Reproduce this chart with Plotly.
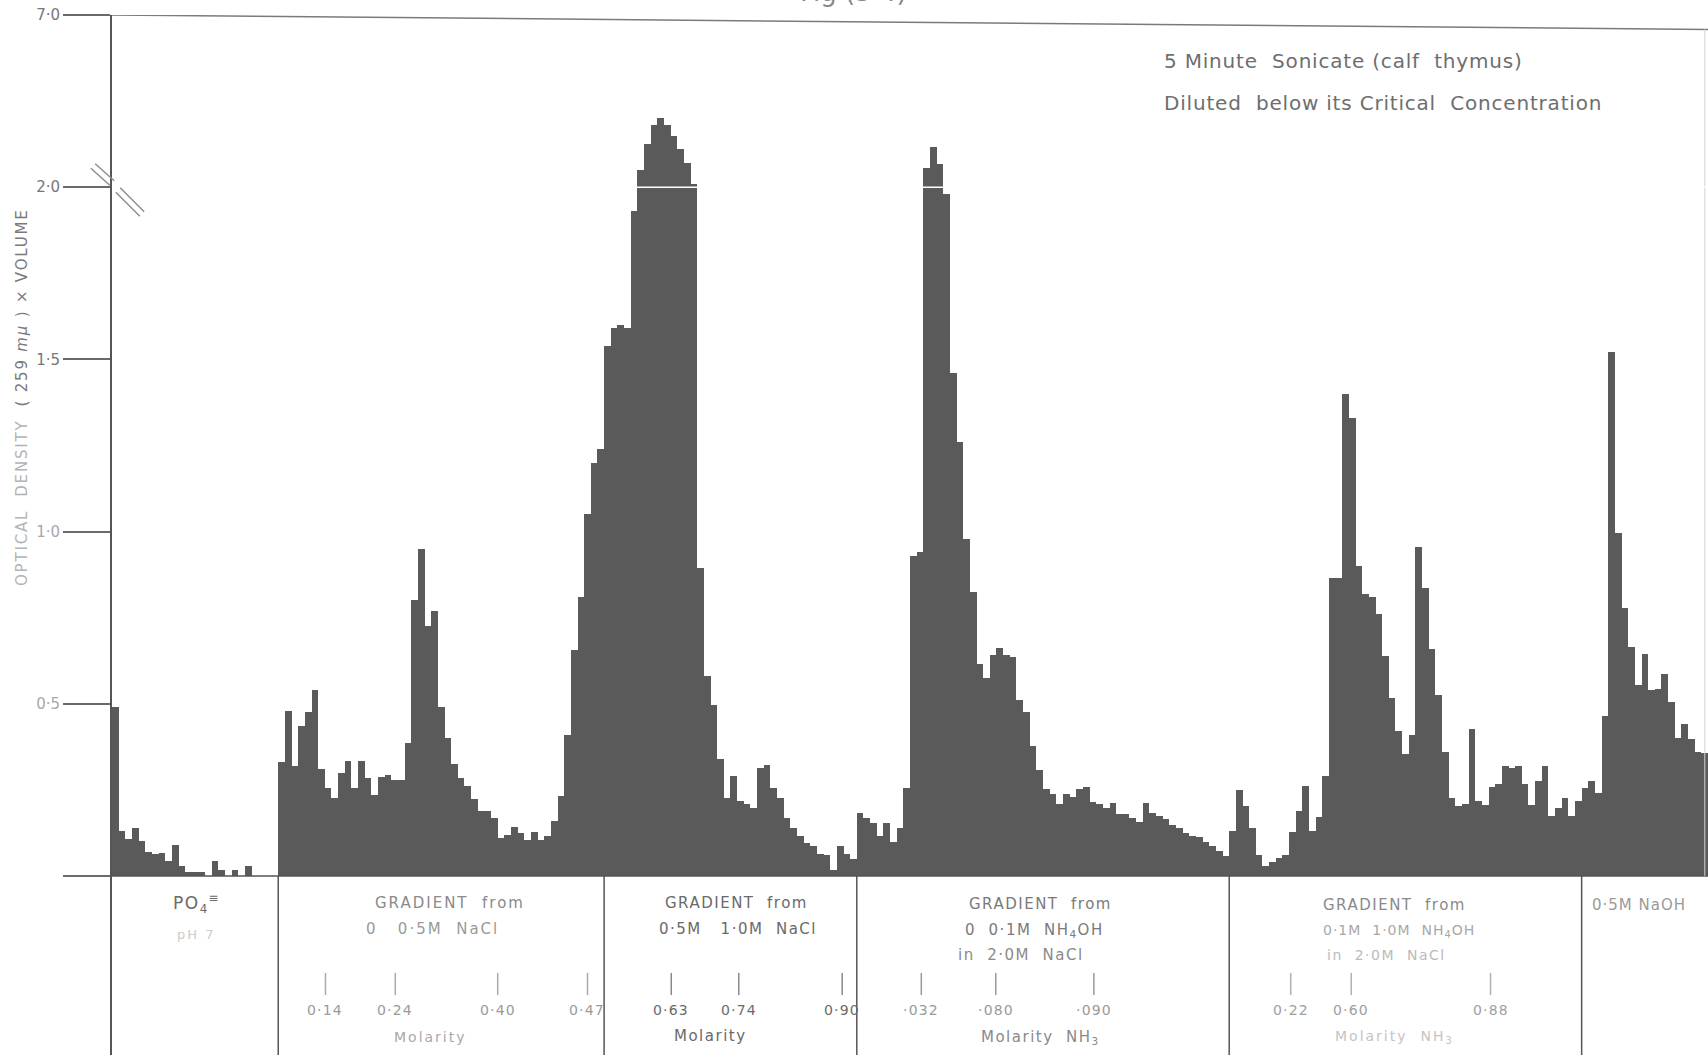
import plotly.graph_objects as go

# ---------------------------------------------------------------
# Optical density (259 mu) x volume for every collected fraction,
# grouped by elution stage. Values above 2.0 lie on the broken
# (compressed) part of the ordinate, which runs from 2.0 to 7.0.
# ---------------------------------------------------------------
po4_ph7 = [0.49, 0.13, 0.106, 0.14, 0.10, 0.07, 0.063, 0.068, 0.043, 0.09,
           0.03, 0.01, 0.01, 0.01, 0.0, 0.043, 0.017, 0.0, 0.016, 0.0,
           0.03, 0.0, 0.0, 0.0, 0.0]

nacl_0_to_05 = [0.33, 0.48, 0.32, 0.435, 0.476, 0.54, 0.31, 0.254, 0.225, 0.30,
                0.333, 0.254, 0.333, 0.283, 0.235, 0.286, 0.293, 0.278, 0.28, 0.385,
                0.80, 0.95, 0.726, 0.768, 0.49, 0.40, 0.324, 0.285, 0.26, 0.223,
                0.19, 0.19, 0.167, 0.11, 0.12, 0.143, 0.124, 0.104, 0.127, 0.104,
                0.116, 0.16, 0.233, 0.41, 0.655, 0.81, 1.05, 1.20, 1.24]

nacl_05_to_10 = [1.54, 1.59, 1.60, 1.59, 1.93, 2.5, 3.25, 3.8, 4.0, 3.8,
                 3.5, 3.1, 2.7, 2.1, 0.895, 0.58, 0.495, 0.34, 0.226, 0.29,
                 0.218, 0.21, 0.197, 0.313, 0.323, 0.255, 0.226, 0.167, 0.138, 0.116,
                 0.095, 0.087, 0.065, 0.061, 0.017, 0.087, 0.065, 0.05]

nh4oh_0_to_01 = [0.184, 0.168, 0.154, 0.115, 0.154, 0.098, 0.14, 0.254, 0.93, 0.94,
                 2.56, 3.16, 2.67, 1.98, 1.46, 1.26, 0.978, 0.824, 0.615, 0.575,
                 0.642, 0.663, 0.642, 0.635, 0.51, 0.475, 0.377, 0.307, 0.251, 0.237,
                 0.21, 0.237, 0.23, 0.251, 0.258, 0.216, 0.21, 0.198, 0.212, 0.18,
                 0.179, 0.168, 0.156, 0.212, 0.184, 0.175, 0.165, 0.147, 0.14, 0.126,
                 0.115, 0.112, 0.098, 0.087, 0.073, 0.059]

nh4oh_01_to_10 = [0.13, 0.25, 0.203, 0.139, 0.06, 0.03, 0.04, 0.053, 0.06, 0.127,
                  0.19, 0.26, 0.13, 0.17, 0.29, 0.866, 0.866, 1.40, 1.33, 0.90,
                  0.82, 0.81, 0.76, 0.64, 0.517, 0.42, 0.354, 0.41, 0.954, 0.835,
                  0.66, 0.524, 0.36, 0.227, 0.203, 0.21, 0.428, 0.217, 0.207, 0.257,
                  0.267, 0.318, 0.314, 0.318, 0.267, 0.205, 0.276, 0.318, 0.174, 0.197,
                  0.225, 0.174, 0.217]

naoh_05 = [0.255, 0.276, 0.24, 0.463, 1.52, 0.995, 0.777, 0.666, 0.554, 0.645,
           0.54, 0.544, 0.585, 0.504, 0.40, 0.44, 0.397, 0.36, 0.357]

stages = [po4_ph7, nacl_0_to_05, nacl_05_to_10, nh4oh_0_to_01, nh4oh_01_to_10, naoh_05]

# Ordinate ticks (true values) and their printed labels
y_tick_values = [0.0, 0.5, 1.0, 1.5, 2.0, 7.0]
y_tick_labels = ["", "0·5", "1·0", "1·5", "2·0", "7·0"]

# Molarity reached at given fraction numbers, per gradient
molarity_nacl_low = [(31.6, "0·14"), (42.1, "0·24"), (57.5, "0·40"), (71.0, "0·47")]
molarity_nacl_high = [(83.6, "0·63"), (93.75, "0·74"), (109.3, "0·90")]
molarity_nh3_low = [(121.2, "·032"), (132.4, "·080"), (147.15, "·090")]
molarity_nh3_high = [(176.75, "0·22"), (185.85, "0·60"), (206.8, "0·88")]

# ---------------------------------------------------------------
# Broken ordinate: linear up to 2.0, then 2.0 -> 7.0 squeezed into 0.5
# ---------------------------------------------------------------
BREAK = 2.0
UPPER_SQUEEZE = 10.0


def to_axis(v):
    return v if v <= BREAK else BREAK + (v - BREAK) / UPPER_SQUEEZE


values = [v for stage in stages for v in stage]
fractions = list(range(len(values)))

# stage boundaries fall between fractions
boundaries = []
count = 0
for stage in stages[:-1]:
    count += len(stage)
    boundaries.append(count - 0.5)

# ---------------------------------------------------------------
# Page geometry helpers
# ---------------------------------------------------------------
W, H = 1708, 1060
PL, PR, PT, PB = 112, 1708, 15, 1055
Y_MIN, Y_MAX = -0.52, 2.5


def px_x(px):
    return (px - PL) / (PR - PL)


def px_y(py):
    return (PB - py) / (PB - PT)


def data_y(py):
    return Y_MAX - (py - PT) / (PB - PT) * (Y_MAX - Y_MIN)


FONT = "DejaVu Sans"
INK = "#6a6a6a"
FAINT = "#a8a8a8"
BAR = "#5a5a5a"

fig = go.Figure()
fig.add_trace(go.Bar(
    x=fractions,
    y=[to_axis(v) for v in values],
    width=1.0,
    marker=dict(color=BAR, line=dict(width=0)),
    hoverinfo="skip",
    showlegend=False,
))

shapes = []
annotations = []

# baseline
shapes.append(dict(type="line", xref="paper", yref="y", x0=0, x1=1, y0=0, y1=0,
                   line=dict(color="#555555", width=1.6)))
# top rule at 7.0
shapes.append(dict(type="line", xref="paper", yref="y", x0=0, x1=1,
                   y0=to_axis(7.0), y1=to_axis(7.0) - 0.042,
                   line=dict(color="#7a7a7a", width=1.5)))
# faint right frame
shapes.append(dict(type="line", xref="paper", yref="y", x0=0.998, x1=0.998,
                   y0=to_axis(7.0) - 0.042, y1=0.0,
                   line=dict(color="#d4d4d4", width=1)))
# white break line across the bars at 2.0
shapes.append(dict(type="line", xref="paper", yref="y", x0=0.004, x1=1, y0=BREAK, y1=BREAK,
                   line=dict(color="white", width=1.6), layer="above"))

# stage separators below the baseline
for b in boundaries:
    shapes.append(dict(type="line", xref="x", yref="y", x0=b, x1=b, y0=0, y1=Y_MIN,
                       line=dict(color="#555555", width=1.5)))

# axis-break marks (double slashes) at 2.0
for (xa, ya, xb, yb) in [(93, 166, 112, 183), (118, 190, 142, 214)]:
    for off in (-2.2, 2.2):
        shapes.append(dict(type="line", xref="paper", yref="paper",
                           x0=px_x(xa + off), y0=px_y(ya - off),
                           x1=px_x(xb + off), y1=px_y(yb - off),
                           line=dict(color="#8c8c8c", width=1.4)))


def spaced(s, ls):
    if ls:
        return f'<span style="letter-spacing:{ls}px">{s}</span>'
    return s


def text(s, px, py, size=14, color=INK, xanchor="center", angle=0, ls=0):
    annotations.append(dict(text=spaced(s, ls), x=px_x(px), y=px_y(py),
                            xref="paper", yref="paper",
                            showarrow=False, xanchor=xanchor, yanchor="middle",
                            textangle=angle, font=dict(family=FONT, size=size, color=color)))


# molarity tick marks and labels
mol_groups = [
    (molarity_nacl_low, FAINT, "#9a9a9a"),
    (molarity_nacl_high, "#8a8a8a", INK),
    (molarity_nh3_low, "#9a9a9a", "#9a9a9a"),
    (molarity_nh3_high, "#b0b0b0", "#a0a0a0"),
]
for marks, tick_col, lab_col in mol_groups:
    for frac, lab in marks:
        shapes.append(dict(type="line", xref="x", yref="y", x0=frac, x1=frac,
                           y0=data_y(973), y1=data_y(995),
                           line=dict(color=tick_col, width=1.5)))
        annotations.append(dict(text=spaced(lab, 1.2), x=frac, y=data_y(1010),
                                xref="x", yref="y",
                                showarrow=False, xanchor="center", yanchor="middle",
                                font=dict(family=FONT, size=14, color=lab_col)))

# stage captions
text("PO<sub>4</sub><sup>≡</sup>", 196, 903, 17, INK, ls=1.5)
text("pH 7", 196, 934, 13, "#cccccc", ls=2)

text("GRADIENT  from", 450, 903, 15, "#8a8a8a", ls=2)
text("0   0·5M  NaCl", 432, 929, 15, "#9a9a9a", ls=2)
text("Molarity", 430, 1037, 14, FAINT, ls=2)

text("GRADIENT  from", 736, 903, 15, INK, ls=1.5)
text("0·5M   1·0M  NaCl", 738, 929, 15, INK, ls=1.5)
text("Molarity", 710, 1036, 15, INK, ls=1.5)

text("GRADIENT  from", 1040, 904, 15, "#7a7a7a", ls=1.5)
text("0  0·1M  NH<sub>4</sub>OH", 1034, 930, 15, "#7a7a7a", ls=1.5)
text("in  2·0M  NaCl", 1021, 955, 15, "#8a8a8a", ls=1.5)
text("Molarity  NH<sub>3</sub>", 1040, 1037, 15, "#8a8a8a", ls=1.5)

text("GRADIENT  from", 1394, 905, 15, "#8a8a8a", ls=1.5)
text("0·1M  1·0M  NH<sub>4</sub>OH", 1399, 931, 14, FAINT, ls=1)
text("in  2·0M  NaCl", 1386, 955, 14, "#bbbbbb", ls=1.5)
text("Molarity  NH<sub>3</sub>", 1394, 1037, 14, "#c4c4c4", ls=2)

text("0·5M NaOH", 1639, 905, 15, "#9a9a9a", ls=1)

# sample description
text("5 Minute  Sonicate (calf  thymus)", 1162, 61, 20, "#6e6e6e", xanchor="left", ls=0.8)
text("Diluted  below its Critical  Concentration", 1162, 103, 20, "#6e6e6e",
     xanchor="left", ls=0.8)

# ordinate title
text('<span style="color:#b4b4b4">OPTICAL  DENSITY</span>'
     '<span style="color:#7a7a7a">  ( 259 <i>mμ</i> ) × VOLUME</span>',
     22, 398, 15, INK, angle=-90, ls=1.8)

# figure number (runs off the top edge)
annotations.append(dict(text="Fig (5·4)", x=px_x(853), y=px_y(9), xref="paper", yref="paper",
                        showarrow=False, xanchor="center", yanchor="bottom",
                        font=dict(family=FONT, size=26, color="#8a8a8a")))

tick_text = []
for v, lab in zip(y_tick_values, y_tick_labels):
    col = FAINT if v in (0.5, 1.0) else "#777777"
    tick_text.append(f'<span style="color:{col}">{lab}</span>')

fig.update_layout(
    width=W, height=H,
    margin=dict(l=PL, r=W - PR, t=PT, b=H - PB, pad=0),
    paper_bgcolor="white", plot_bgcolor="white",
    bargap=0,
    xaxis=dict(visible=False, range=[-0.5, len(values) - 0.5], fixedrange=True),
    yaxis=dict(
        range=[Y_MIN, Y_MAX],
        tickmode="array",
        tickvals=[to_axis(v) for v in y_tick_values],
        ticktext=tick_text,
        ticks="outside", ticklen=47, tickwidth=1.5, tickcolor="#6a6a6a",
        showline=True, linecolor="#555555", linewidth=2,
        showgrid=False, zeroline=False,
        tickfont=dict(family=FONT, size=15, color="#777777"),
        fixedrange=True,
    ),
    shapes=shapes,
    annotations=annotations,
    showlegend=False,
)

fig.write_html("out.html")
